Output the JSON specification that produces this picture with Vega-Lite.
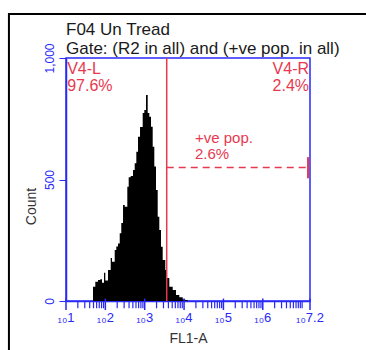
{
  "$schema": "https://vega.github.io/schema/vega-lite/v6.json",
  "width": 244,
  "height": 243,
  "autosize": "none",
  "padding": {"left": 66, "top": 58, "right": 56, "bottom": 49},
  "background": "white",
  "config": {
    "font": "Liberation Sans",
    "view": {"stroke": "#2828f8", "strokeWidth": 1.5}
  },
  "datasets": {
    "histogram": [
      {"fl1_log": 1.686, "count": 59},
      {"fl1_log": 1.745, "count": 79},
      {"fl1_log": 1.813, "count": 86},
      {"fl1_log": 1.872, "count": 90},
      {"fl1_log": 1.915, "count": 75},
      {"fl1_log": 1.966, "count": 116},
      {"fl1_log": 1.999, "count": 84},
      {"fl1_log": 2.067, "count": 128},
      {"fl1_log": 2.136, "count": 177},
      {"fl1_log": 2.169, "count": 162},
      {"fl1_log": 2.238, "count": 210},
      {"fl1_log": 2.278, "count": 224},
      {"fl1_log": 2.321, "count": 237},
      {"fl1_log": 2.365, "count": 279},
      {"fl1_log": 2.405, "count": 321},
      {"fl1_log": 2.449, "count": 395},
      {"fl1_log": 2.492, "count": 388},
      {"fl1_log": 2.558, "count": 470},
      {"fl1_log": 2.593, "count": 509},
      {"fl1_log": 2.644, "count": 514},
      {"fl1_log": 2.703, "count": 539},
      {"fl1_log": 2.746, "count": 567},
      {"fl1_log": 2.787, "count": 614},
      {"fl1_log": 2.830, "count": 676},
      {"fl1_log": 2.881, "count": 716},
      {"fl1_log": 2.949, "count": 774},
      {"fl1_log": 2.990, "count": 786},
      {"fl1_log": 3.033, "count": 848},
      {"fl1_log": 3.076, "count": 774},
      {"fl1_log": 3.117, "count": 758},
      {"fl1_log": 3.160, "count": 717},
      {"fl1_log": 3.203, "count": 635},
      {"fl1_log": 3.244, "count": 553},
      {"fl1_log": 3.287, "count": 457},
      {"fl1_log": 3.330, "count": 347},
      {"fl1_log": 3.371, "count": 292},
      {"fl1_log": 3.414, "count": 223},
      {"fl1_log": 3.457, "count": 169},
      {"fl1_log": 3.523, "count": 128},
      {"fl1_log": 3.559, "count": 95},
      {"fl1_log": 3.625, "count": 59},
      {"fl1_log": 3.712, "count": 45},
      {"fl1_log": 3.795, "count": 25},
      {"fl1_log": 3.879, "count": 15},
      {"fl1_log": 3.966, "count": 7},
      {"fl1_log": 4.030, "count": 4},
      {"fl1_log": 4.093, "count": 0}
    ],
    "majorTicks": [
      {"fl1_log": 1, "label": "₁₀1"},
      {"fl1_log": 2, "label": "₁₀2"},
      {"fl1_log": 3, "label": "₁₀3"},
      {"fl1_log": 4, "label": "₁₀4"},
      {"fl1_log": 5, "label": "₁₀5"},
      {"fl1_log": 6, "label": "₁₀6"},
      {"fl1_log": 7.2, "label": "₁₀7.2"}
    ],
    "minorTicks": [
      {"fl1_log": 1.30103}, {"fl1_log": 1.47712}, {"fl1_log": 1.60206}, {"fl1_log": 1.69897}, {"fl1_log": 1.77815}, {"fl1_log": 1.8451}, {"fl1_log": 1.90309}, {"fl1_log": 1.95424},
      {"fl1_log": 2.30103}, {"fl1_log": 2.47712}, {"fl1_log": 2.60206}, {"fl1_log": 2.69897}, {"fl1_log": 2.77815}, {"fl1_log": 2.8451}, {"fl1_log": 2.90309}, {"fl1_log": 2.95424},
      {"fl1_log": 3.30103}, {"fl1_log": 3.47712}, {"fl1_log": 3.60206}, {"fl1_log": 3.69897}, {"fl1_log": 3.77815}, {"fl1_log": 3.8451}, {"fl1_log": 3.90309}, {"fl1_log": 3.95424},
      {"fl1_log": 4.30103}, {"fl1_log": 4.47712}, {"fl1_log": 4.60206}, {"fl1_log": 4.69897}, {"fl1_log": 4.77815}, {"fl1_log": 4.8451}, {"fl1_log": 4.90309}, {"fl1_log": 4.95424},
      {"fl1_log": 5.30103}, {"fl1_log": 5.47712}, {"fl1_log": 5.60206}, {"fl1_log": 5.69897}, {"fl1_log": 5.77815}, {"fl1_log": 5.8451}, {"fl1_log": 5.90309}, {"fl1_log": 5.95424},
      {"fl1_log": 6.30103}, {"fl1_log": 6.47712}, {"fl1_log": 6.60206}, {"fl1_log": 6.69897}, {"fl1_log": 6.77815}, {"fl1_log": 6.8451}, {"fl1_log": 6.90309}, {"fl1_log": 6.95424},
      {"fl1_log": 7}
    ]
  },
  "layer": [
    {
      "data": {"name": "histogram"},
      "mark": {"type": "area", "interpolate": "step-after", "color": "#000000"},
      "encoding": {
        "x": {
          "field": "fl1_log", "type": "quantitative",
          "scale": {"domain": [1, 7.2], "nice": false, "zero": false},
          "axis": {
            "title": "FL1-A",
            "titleFontSize": 14, "titleColor": "#333333", "titleFontWeight": "normal",
            "titleBaseline": "alphabetic", "titleY": 41,
            "ticks": false, "labels": false,
            "domainColor": "#2828f8", "domainWidth": 1.5,
            "grid": false
          }
        },
        "y": {
          "field": "count", "type": "quantitative",
          "scale": {"domain": [0, 1000], "nice": false, "zero": false},
          "axis": {
            "title": "Count",
            "titleFontSize": 14, "titleColor": "#333333", "titleFontWeight": "normal",
            "titleAngle": 270, "titleAlign": "center", "titleBaseline": "alphabetic",
            "titleX": -30.5, "titleY": 148,
            "values": [0, 500, 1000],
            "labelExpr": "datum.value >= 1000 ? '1,000' : '' + datum.value",
            "labelAngle": 270, "labelAlign": "center", "labelBaseline": "alphabetic",
            "labelColor": "#2828f8", "labelFontSize": 12, "labelPadding": 6,
            "domainColor": "#2828f8", "domainWidth": 1.5,
            "tickColor": "#2828f8", "tickSize": 7,
            "grid": false
          }
        }
      }
    },
    {
      "data": {"name": "majorTicks"},
      "mark": {"type": "rule", "color": "#2828f8", "strokeWidth": 1.5},
      "encoding": {
        "x": {"field": "fl1_log", "type": "quantitative"},
        "y": {"datum": 10, "type": "quantitative"},
        "y2": {"datum": -37}
      }
    },
    {
      "data": {"name": "minorTicks"},
      "mark": {"type": "rule", "color": "#2828f8", "strokeWidth": 1.2},
      "encoding": {
        "x": {"field": "fl1_log", "type": "quantitative"},
        "y": {"datum": 0, "type": "quantitative"},
        "y2": {"datum": -30}
      }
    },
    {
      "data": {"name": "majorTicks"},
      "mark": {"type": "text", "align": "center", "baseline": "top", "fontSize": 13, "color": "#2828f8"},
      "encoding": {
        "x": {"field": "fl1_log", "type": "quantitative"},
        "y": {"datum": -46, "type": "quantitative"},
        "text": {"field": "label"}
      }
    },
    {
      "data": {"values": [{}]},
      "mark": {"type": "rect", "filled": false, "stroke": "#000000", "strokeWidth": 2, "clip": false},
      "encoding": {
        "x": {"datum": -0.45, "type": "quantitative"},
        "x2": {"datum": 9},
        "y": {"datum": 1181, "type": "quantitative"},
        "y2": {"datum": -300}
      }
    },
    {
      "data": {"values": [{}]},
      "mark": {"type": "rule", "color": "#e8384f", "strokeWidth": 1.5},
      "encoding": {"x": {"datum": 3.559, "type": "quantitative"}}
    },
    {
      "data": {"values": [{}]},
      "mark": {"type": "rule", "color": "#e8384f", "strokeWidth": 1.5, "strokeDash": [7, 5]},
      "encoding": {
        "x": {"datum": 3.559, "type": "quantitative"},
        "x2": {"datum": 7.2},
        "y": {"datum": 549, "type": "quantitative"}
      }
    },
    {
      "data": {"values": [{}]},
      "mark": {"type": "rule", "color": "#e8384f", "strokeWidth": 2},
      "encoding": {
        "x": {"datum": 7.15, "type": "quantitative"},
        "y": {"datum": 505, "type": "quantitative"},
        "y2": {"datum": 592}
      }
    },
    {
      "data": {"values": [{}]},
      "mark": {"type": "text", "text": ["V4-L", "97.6%"], "align": "left", "baseline": "alphabetic", "fontSize": 16, "lineHeight": 16.5, "color": "#e8384f"},
      "encoding": {"x": {"datum": 1.03, "type": "quantitative"}, "y": {"datum": 934, "type": "quantitative"}}
    },
    {
      "data": {"values": [{}]},
      "mark": {"type": "text", "text": ["V4-R", "2.4%"], "align": "right", "baseline": "alphabetic", "fontSize": 16, "lineHeight": 16.5, "color": "#e8384f"},
      "encoding": {"x": {"datum": 7.175, "type": "quantitative"}, "y": {"datum": 934, "type": "quantitative"}}
    },
    {
      "data": {"values": [{}]},
      "mark": {"type": "text", "text": ["+ve pop.", "2.6%"], "align": "left", "baseline": "alphabetic", "fontSize": 15, "lineHeight": 16, "color": "#e8384f"},
      "encoding": {"x": {"datum": 4.278, "type": "quantitative"}, "y": {"datum": 650, "type": "quantitative"}}
    },
    {
      "data": {"values": [{}]},
      "mark": {"type": "text", "text": ["F04 Un Tread", "Gate: (R2 in all) and (+ve pop. in all)"], "align": "left", "baseline": "alphabetic", "fontSize": 17, "lineHeight": 19, "color": "#1a1a1a"},
      "encoding": {"x": {"datum": 1, "type": "quantitative"}, "y": {"datum": 1094.7, "type": "quantitative"}}
    }
  ]
}
